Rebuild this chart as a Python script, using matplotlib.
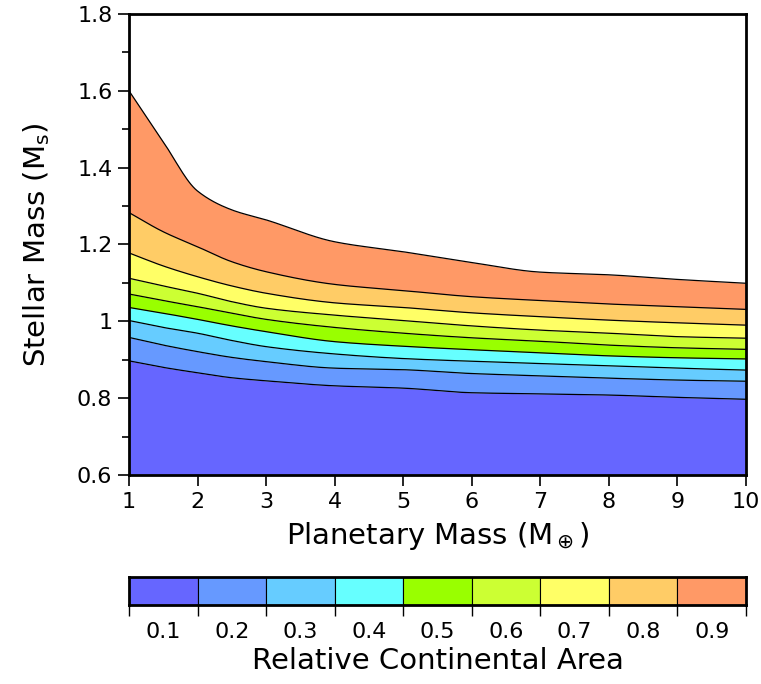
import numpy as np
import matplotlib.pyplot as plt
from matplotlib.ticker import MultipleLocator

plt.rcParams['font.family'] = ['DejaVu Sans']

# planetary mass grid (Earth masses)
planet_mass = [1, 1.5, 2, 2.5, 3, 4, 5, 6, 7, 8, 9, 10]

# stellar mass at which relative continental area reaches each level
c1 = [0.897, 0.880, 0.866, 0.853, 0.845, 0.832, 0.826, 0.814, 0.811, 0.808, 0.802, 0.797]
c2 = [0.958, 0.938, 0.921, 0.906, 0.895, 0.878, 0.874, 0.864, 0.858, 0.852, 0.847, 0.844]
c3 = [1.002, 0.984, 0.969, 0.950, 0.934, 0.915, 0.903, 0.896, 0.890, 0.884, 0.878, 0.873]
c4 = [1.036, 1.021, 1.005, 0.988, 0.973, 0.947, 0.935, 0.926, 0.918, 0.910, 0.905, 0.902]
c5 = [1.071, 1.054, 1.038, 1.021, 1.005, 0.984, 0.969, 0.957, 0.948, 0.938, 0.931, 0.927]
c6 = [1.112, 1.092, 1.073, 1.051, 1.034, 1.016, 1.002, 0.988, 0.977, 0.969, 0.960, 0.956]
c7 = [1.178, 1.144, 1.116, 1.092, 1.073, 1.048, 1.036, 1.022, 1.012, 1.003, 0.996, 0.990]
c8 = [1.283, 1.233, 1.194, 1.155, 1.129, 1.096, 1.080, 1.064, 1.054, 1.045, 1.038, 1.031]
c9 = [1.600, 1.467, 1.339, 1.290, 1.264, 1.207, 1.181, 1.153, 1.128, 1.121, 1.109, 1.099]

levels = ['0.1', '0.2', '0.3', '0.4', '0.5', '0.6', '0.7', '0.8', '0.9']
colors = ['#6666ff', '#6699ff', '#66ccff', '#66ffff', '#99ff00',
          '#ccff33', '#ffff66', '#ffcc66', '#ff9966']

curves = [c1, c2, c3, c4, c5, c6, c7, c8, c9]


def smooth(xs, ys, n=300):
    # monotone cubic (pchip-style) rendering of the read points
    xs = np.asarray(xs, float)
    ys = np.asarray(ys, float)
    h = np.diff(xs)
    d = np.diff(ys) / h
    m = np.zeros_like(ys)
    for k in range(1, len(xs) - 1):
        if d[k - 1] * d[k] > 0:
            w1 = 2 * h[k] + h[k - 1]
            w2 = h[k] + 2 * h[k - 1]
            m[k] = (w1 + w2) / (w1 / d[k - 1] + w2 / d[k])
    m[0] = d[0]
    m[-1] = d[-1]
    xf = np.linspace(xs[0], xs[-1], n)
    idx = np.clip(np.searchsorted(xs, xf) - 1, 0, len(xs) - 2)
    t = (xf - xs[idx]) / h[idx]
    h00 = 2 * t**3 - 3 * t**2 + 1
    h10 = t**3 - 2 * t**2 + t
    h01 = -2 * t**3 + 3 * t**2
    h11 = t**3 - t**2
    yf = (h00 * ys[idx] + h10 * h[idx] * m[idx]
          + h01 * ys[idx + 1] + h11 * h[idx] * m[idx + 1])
    return xf, yf


fig = plt.figure(figsize=(7.61, 6.84), dpi=100)
ax = fig.add_axes([0.1695, 0.3056, 0.8108, 0.674])

lower = None
for col, c in zip(colors, curves):
    xf, yf = smooth(planet_mass, c)
    base = np.full(len(xf), 0.6) if lower is None else lower
    ax.fill_between(xf, base, yf, color=col, lw=0)
    ax.plot(xf, yf, color='black', lw=0.9, zorder=3)
    lower = yf

ax.set_xlim(1, 10)
ax.set_ylim(0.6, 1.8)
ax.set_xticks(range(1, 11))
ax.yaxis.set_minor_locator(MultipleLocator(0.1))
ax.set_yticks([0.6, 0.8, 1.0, 1.2, 1.4, 1.6, 1.8])
ax.set_yticklabels(['0.6', '0.8', '1', '1.2', '1.4', '1.6', '1.8'])
ax.tick_params(direction='out', length=8, width=1.2, labelsize=16, pad=4)
ax.tick_params(which='minor', direction='out', length=5, width=1.2)
for s in ax.spines.values():
    s.set_linewidth(2)
ax.set_xlabel(r'Planetary Mass (M$_\oplus$)', fontsize=21, labelpad=6)
ax.set_ylabel(r'Stellar Mass (M$_\mathrm{s}$)', fontsize=21, labelpad=18)

# colour bar
cax = fig.add_axes([0.1695, 0.1155, 0.8108, 0.041])
cax.bar(np.arange(len(colors)) + 0.5, 1, width=1, color=colors,
        edgecolor='black', lw=0.8)
cax.set_xlim(0, len(colors))
cax.set_ylim(0, 1)
cax.set_yticks([])
cax.set_xticks(range(len(colors) + 1))
cax.set_xticklabels([])
cax.set_xticks(np.arange(len(colors)) + 0.5, minor=True)
cax.set_xticklabels(levels, minor=True)
cax.tick_params(direction='out', length=8, width=1.0)
cax.tick_params(which='minor', length=0, labelsize=16, pad=12)
for s in cax.spines.values():
    s.set_linewidth(2)
cax.set_xlabel('Relative Continental Area', fontsize=21, labelpad=4)

fig.savefig('out.png', dpi=100)
